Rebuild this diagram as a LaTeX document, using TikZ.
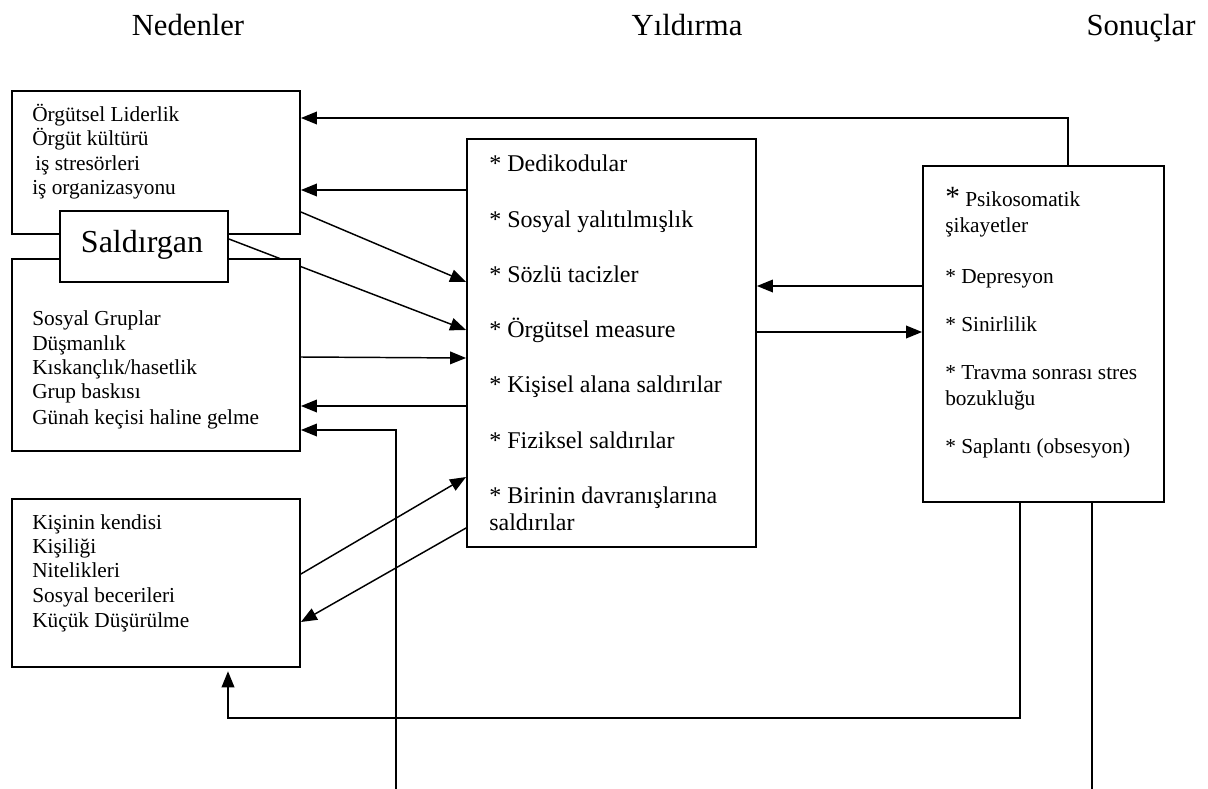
\documentclass[tikz,border=0pt]{standalone}
\usepackage{fontspec}
\setmainfont{Liberation Serif}
\usetikzlibrary{arrows.meta,fit,backgrounds}
\begin{document}
\begin{tikzpicture}[x=0.75pt,y=-0.75pt,
  box/.style={draw, line width=1.4pt, fill=white, inner sep=0pt},
  arr/.style={line width=1.1pt, -{Triangle[length=12pt,width=9.5pt]}},
  wire/.style={line width=1.1pt},
  head/.style={font=\fontsize{23}{27}\selectfont, anchor=base, inner sep=0pt},
  item/.style={font=\fontsize{16}{19}\selectfont, anchor=base west, inner sep=0pt},
  act/.style={font=\fontsize{18}{21}\selectfont, anchor=base west, inner sep=0pt},
]
\useasboundingbox (0,0) rectangle (1208,789);

% column headings
\node[head] (hCause) at (188,35) {Nedenler};
\node[head] (hMob)   at (687,35) {Yıldırma};
\node[head] (hRes)   at (1141,35) {Sonuçlar};

% boxes
\node[box, fit={(12,91) (300,234)}]   (A) {};
\node[box, fit={(12,259) (300,451)}]  (B) {};
\node[box, fit={(12,499) (300,667)}]  (C) {};
\node[box, fit={(60,211) (228,282)}]  (S) {};
\node[box, fit={(467,139) (756,547)}] (M) {};
\node[box, fit={(923,166) (1164,502)}] (R) {};

% free ends of the two open lines at the bottom
\coordinate (endL) at (396,789);
\coordinate (endR) at (1092,789);

% causes
\node[item] (a1) at (32,121) {Örgütsel Liderlik};
\node[item] (a2) at (32,145) {Örgüt kültürü};
\node[item] (a3) at (35,170) {iş stresörleri};
\node[item] (a4) at (32,194) {iş organizasyonu};

\node[item] (b1) at (32,325) {Sosyal Gruplar};
\node[item] (b2) at (32,350) {Düşmanlık};
\node[item] (b3) at (32,374) {Kıskançlık/hasetlik};
\node[item] (b4) at (32,398) {Grup baskısı};
\node[item] (b5) at (32,424) {Günah keçisi haline gelme};

\node[item] (c1) at (32,529) {Kişinin kendisi};
\node[item] (c2) at (32,553) {Kişiliği};
\node[item] (c3) at (32,577) {Nitelikleri};
\node[item] (c4) at (32,602) {Sosyal becerileri};
\node[item] (c5) at (32,627) {Küçük Düşürülme};

\node[font=\fontsize{24}{28}\selectfont, anchor=base, inner sep=0pt] (s1) at (142,252) {Saldırgan};

% mobbing behaviours
\node[act] (m1) at (489,171) {* Dedikodular};
\node[act] (m2) at (489,227) {* Sosyal yalıtılmışlık};
\node[act] (m3) at (489,282) {* Sözlü tacizler};
\node[act] (m4) at (489,337) {* Örgütsel measure};
\node[act] (m5) at (489,392) {* Kişisel alana saldırılar};
\node[act] (m6) at (489,448) {* Fiziksel saldırılar};
\node[act] (m7) at (489,503) {* Birinin davranışlarına};
\node[act] (m8) at (489,530) {saldırılar};

% consequences
\node[item] (r1) at (945,206) {{\fontsize{22}{22}\selectfont*}\ Psikosomatik};
\node[item] (r2) at (945,232) {şikayetler};
\node[item] (r3) at (945,283) {* Depresyon};
\node[item] (r4) at (945,331) {* Sinirlilik};
\node[item] (r5) at (945,379) {* Travma sonrası stres};
\node[item] (r6) at (945,405) {bozukluğu};
\node[item] (r7) at (945,453) {* Saplantı (obsesyon)};

% connectors
\begin{scope}[on background layer]
  \draw[arr] (1068,0 |- R.north) |- (A.east |- 0,118);
  \draw[arr] (M.west |- 0,190) -- (A.east |- 0,190);
  \draw[arr] (A.east |- 0,212) -- (M.west |- 0,282);
  \draw[arr] (S.east |- 0,239) -- (M.west |- 0,330);
  \draw[arr] (B.east |- 0,357) -- (M.west |- 0,358);
  \draw[arr] (M.west |- 0,406) -- (B.east |- 0,406);
  \draw[arr] (endL) |- (B.east |- 0,430);
  \draw[arr] (C.east |- 0,574) -- (M.west |- 0,477);
  \draw[arr] (M.west |- 0,528) -- (C.east |- 0,622);
  \draw[arr] (R.west |- 0,286) -- (M.east |- 0,286);
  \draw[arr] (M.east |- 0,332) -- (R.west |- 0,332);
  \draw[arr, shorten >=2.5pt] (1020,0 |- R.south) |- (228,718) -- (228,0 |- C.south);
  \draw[wire] (1092,0 |- R.south) -- (endR);
\end{scope}
\end{tikzpicture}
\end{document}
